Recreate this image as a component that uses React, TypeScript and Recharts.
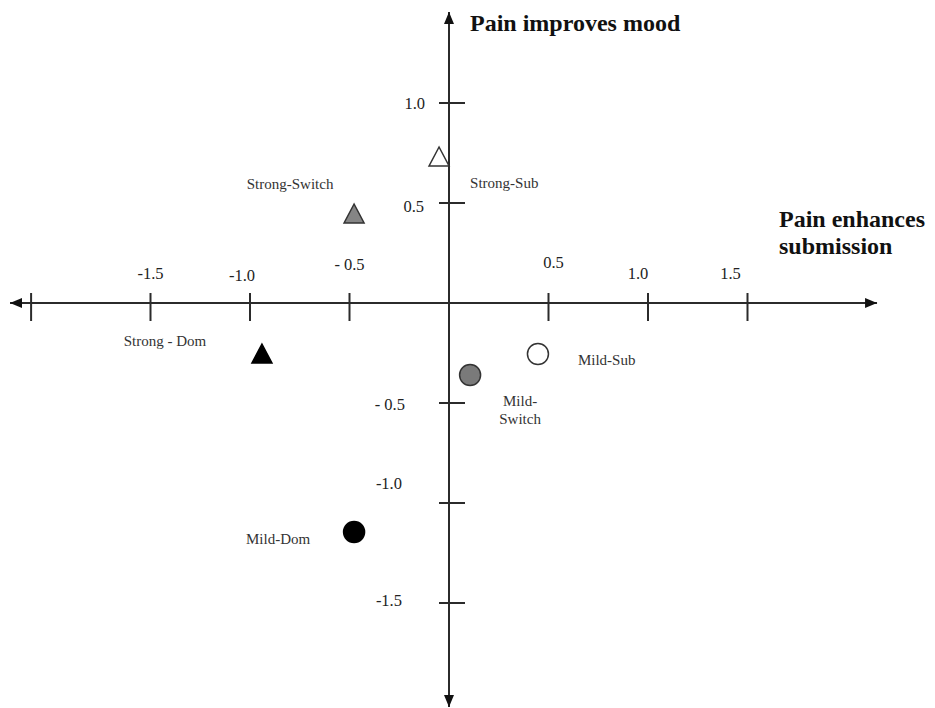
import React from "react";
import { ScatterChart, Scatter, XAxis, YAxis, ReferenceLine, ReferenceDot } from "recharts";

const X_TICKS = [-2.1, -1.5, -1.0, -0.5, 0.5, 1.0, 1.5];
const X_TICK_LABELS = ["", "-1.5", "-1.0", "- 0.5", "0.5", "1.0", "1.5"];
const Y_TICKS = [1.0, 0.5, -0.5, -1.0, -1.5];
const Y_TICK_LABELS = ["1.0", "0.5", "- 0.5", "-1.0", "-1.5"];

const GROUPS = ["Strong-Sub", "Strong-Switch", "Strong-Dom", "Mild-Sub", "Mild-Switch", "Mild-Dom"];
const GROUP_LABELS = ["Strong-Sub", "Strong-Switch", "Strong - Dom", "Mild-Sub", "Mild-\nSwitch", "Mild-Dom"];
const SUBMISSION = [-0.05, -0.477, -0.94, 0.447, 0.106, -0.477];
const MOOD = [0.725, 0.44, -0.26, -0.255, -0.36, -1.145];

const W = 935;
const H = 708;
// 199px per unit across, 200px per unit down; origin at (449, 303)
const X_DOMAIN = [-449 / 199, (W - 449) / 199];
const Y_DOMAIN = [-(H - 303) / 200, 303 / 200];

const INK = "#2b2b2b";
const SERIF = "'Liberation Serif', 'Times New Roman', serif";

const MARKERS: Record<string, { kind: "tri" | "dot"; fill: string }> = {
  "Strong-Sub": { kind: "tri", fill: "#ffffff" },
  "Strong-Switch": { kind: "tri", fill: "#858585" },
  "Strong-Dom": { kind: "tri", fill: "#000000" },
  "Mild-Sub": { kind: "dot", fill: "#ffffff" },
  "Mild-Switch": { kind: "dot", fill: "#7a7a7a" },
  "Mild-Dom": { kind: "dot", fill: "#000000" },
};

// label placement relative to the marker centre
const LABEL_AT: Record<string, { dx: number; dy: number; anchor: string }> = {
  "Strong-Sub": { dx: 31, dy: 25, anchor: "start" },
  "Strong-Switch": { dx: -64, dy: -31, anchor: "middle" },
  "Strong-Dom": { dx: -97, dy: -14, anchor: "middle" },
  "Mild-Sub": { dx: 40, dy: 6, anchor: "start" },
  "Mild-Switch": { dx: 50, dy: 26, anchor: "middle" },
  "Mild-Dom": { dx: -76, dy: 7, anchor: "middle" },
};

const X_LABEL_OFF = [
  [0, 0], [0, -30], [-8, -28], [0, -39], [5, -41], [-10, -30], [-17, -30],
];
const Y_LABEL_OFF = [
  [-24, 0], [-25, 3], [-44, 1], [-47, -20], [-47, -3],
];

const points = GROUPS.map((g, i) => ({
  group: g,
  label: GROUP_LABELS[i],
  x: SUBMISSION[i],
  y: MOOD[i],
}));

function arrowHead(tx: number, ty: number, ux: number, uy: number) {
  const len = 12;
  const half = 5;
  const bx = tx - ux * len;
  const by = ty - uy * len;
  const px = -uy * half;
  const py = ux * half;
  return `${tx},${ty} ${bx + px},${by + py} ${bx - px},${by - py}`;
}

const ArrowAxis = (props: any) => {
  const { x1, y1, x2, y2 } = props;
  const d = Math.hypot(x2 - x1, y2 - y1) || 1;
  const ux = (x2 - x1) / d;
  const uy = (y2 - y1) / d;
  return (
    <g>
      <line x1={x1} y1={y1} x2={x2} y2={y2} stroke={INK} strokeWidth={2} />
      <polygon points={arrowHead(x2, y2, ux, uy)} fill="#111" />
      <polygon points={arrowHead(x1, y1, -ux, -uy)} fill="#111" />
    </g>
  );
};

const xTick = (i: number) => (props: any) => {
  const { cx, cy } = props;
  const [dx, dy] = X_LABEL_OFF[i];
  return (
    <g>
      <line x1={cx} y1={cy - 10} x2={cx} y2={cy + 18} stroke={INK} strokeWidth={2} />
      {X_TICK_LABELS[i] && (
        <text x={cx + dx} y={cy + dy} textAnchor="middle" dominantBaseline="central"
          fontFamily={SERIF} fontSize={16.5} fill="#222">
          {X_TICK_LABELS[i]}
        </text>
      )}
    </g>
  );
};

const yTick = (i: number) => (props: any) => {
  const { cx, cy } = props;
  const [dx, dy] = Y_LABEL_OFF[i];
  return (
    <g>
      <line x1={cx - 10} y1={cy} x2={cx + 16} y2={cy} stroke={INK} strokeWidth={2} />
      <text x={cx + dx} y={cy + dy} textAnchor="end" dominantBaseline="central"
        fontFamily={SERIF} fontSize={16.5} fill="#222">
        {Y_TICK_LABELS[i]}
      </text>
    </g>
  );
};

const PointShape = (props: any) => {
  const { cx, cy, payload } = props;
  const m = MARKERS[payload.group];
  const at = LABEL_AT[payload.group];
  const lines = String(payload.label).split("\n");
  return (
    <g>
      {m.kind === "tri" ? (
        <polygon
          points={`${cx},${cy - 11} ${cx + 10},${cy + 8} ${cx - 10},${cy + 8}`}
          fill={m.fill}
          stroke={m.fill === "#000000" ? "#000" : "#333"}
          strokeWidth={1.5}
        />
      ) : (
        <circle cx={cx} cy={cy} r={10.5} fill={m.fill}
          stroke={m.fill === "#000000" ? "#000" : "#333"} strokeWidth={1.5} />
      )}
      {lines.map((t, k) => (
        <text key={k} x={cx + at.dx} y={cy + at.dy + k * 18} textAnchor={at.anchor}
          dominantBaseline="central" fontFamily={SERIF} fontSize={15} fill="#333">
          {t}
        </text>
      ))}
    </g>
  );
};

export default function App() {
  return (
    <div style={{ position: "absolute", left: 0, top: 0, width: W, height: H, background: "#fff" }}>
      <ScatterChart width={W} height={H} margin={{ top: 0, right: 0, bottom: 0, left: 0 }}>
        <XAxis type="number" dataKey="x" domain={X_DOMAIN} allowDataOverflow hide />
        <YAxis type="number" dataKey="y" domain={Y_DOMAIN} allowDataOverflow hide />
        <ReferenceLine
          segment={[{ x: -2.206, y: 0 }, { x: 2.151, y: 0 }]}
          shape={ArrowAxis}
        />
        <ReferenceLine
          segment={[{ x: 0, y: -2.02 }, { x: 0, y: 1.455 }]}
          shape={ArrowAxis}
        />
        {X_TICKS.map((v, i) => (
          <ReferenceDot key={`x${v}`} x={v} y={0} r={1} shape={xTick(i)} />
        ))}
        {Y_TICKS.map((v, i) => (
          <ReferenceDot key={`y${v}`} x={0} y={v} r={1} shape={yTick(i)} />
        ))}
        <Scatter data={points} shape={PointShape} isAnimationActive={false} />
      </ScatterChart>
      <div style={{ position: "absolute", left: 470, top: 11, fontFamily: SERIF, fontWeight: "bold",
        fontSize: 24, lineHeight: "24px", color: "#111", whiteSpace: "nowrap" }}>
        Pain improves mood
      </div>
      <div style={{ position: "absolute", left: 779, top: 206, fontFamily: SERIF, fontWeight: "bold",
        fontSize: 24, lineHeight: "27px", color: "#111", whiteSpace: "nowrap" }}>
        Pain enhances<br />submission
      </div>
    </div>
  );
}
